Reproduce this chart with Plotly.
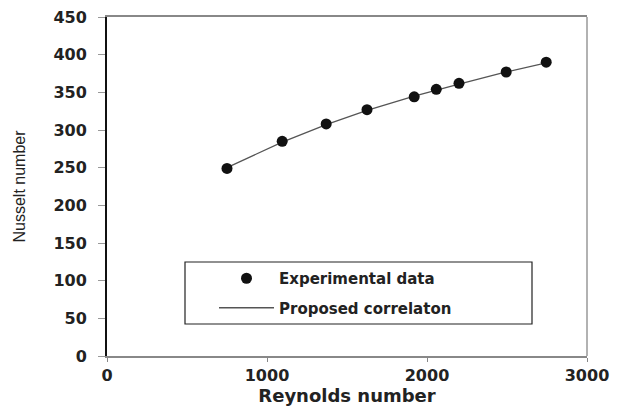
import plotly.graph_objects as go

reynolds = [750, 1095, 1370, 1625, 1920, 2058, 2200, 2495, 2745]
nusselt_exp = [249, 285, 308, 327, 344, 354, 362, 377, 390]
nusselt_corr = [250, 284, 307, 326, 345, 353, 361, 377, 389]

x_ticks = [0, 1000, 2000, 3000]
y_ticks = [0, 50, 100, 150, 200, 250, 300, 350, 400, 450]

tick_font = dict(family="DejaVu Sans", size=16, color="#222", weight="bold")

fig = go.Figure()
fig.add_trace(go.Scatter(
    x=reynolds, y=nusselt_corr, mode="lines", name="Proposed correlaton",
    line=dict(color="#555", width=1.3), legendgroup="b", legendrank=2,
))
fig.add_trace(go.Scatter(
    x=reynolds, y=nusselt_exp, mode="markers", name="Experimental data",
    marker=dict(color="#111", size=11, symbol="circle"), legendgroup="a", legendrank=1,
))

fig.update_layout(
    width=618, height=409,
    margin=dict(l=107, r=31, t=17, b=53, autoexpand=False),
    paper_bgcolor="white", plot_bgcolor="white",
    showlegend=True,
    legend=dict(
        x=(214 - 107) / 480, y=(356 - 262) / 339, xanchor="left", yanchor="top",
        bgcolor="rgba(0,0,0,0)", borderwidth=0,
        font=dict(family="DejaVu Sans", size=15, color="#222", weight="bold"),
        tracegroupgap=7, itemwidth=55,
    ),
    xaxis=dict(
        range=[0, 3000], tickvals=x_ticks, showgrid=False, zeroline=False,
        showline=True, linecolor="#888", linewidth=1.5, mirror=True,
        ticks="outside", ticklen=4, tickcolor="#888", automargin=False,
        tickfont=tick_font,
        title=dict(text="Reynolds number", standoff=5,
                   font=dict(family="DejaVu Sans", size=18, color="#222", weight="bold")),
    ),
    yaxis=dict(
        range=[0, 450], tickvals=y_ticks, showgrid=False, zeroline=False,
        showline=True, linecolor="#111", linewidth=2, automargin=False,
        ticks="outside", ticklen=7, tickcolor="#999", ticklabelstandoff=8,
        tickfont=tick_font,
        title=dict(text="Nusselt number", standoff=24,
                   font=dict(family="Liberation Sans Narrow, Liberation Sans", size=16, color="#222")),
    ),
    shapes=[
        dict(type="line", xref="paper", yref="paper", x0=1, x1=1, y0=0, y1=1,
             line=dict(color="#999", width=1.5)),
        dict(type="rect", xref="paper", yref="paper", x0=(185 - 107) / 480, x1=(532 - 107) / 480,
             y0=(356 - 324) / 339, y1=(356 - 262) / 339, line=dict(color="#222", width=1.2),
             fillcolor="white", layer="below"),
    ],
)

fig.write_html(
    "out.html",
    config={"displayModeBar": False},
    post_script="document.body.style.margin='0';document.body.style.padding='0';",
)
